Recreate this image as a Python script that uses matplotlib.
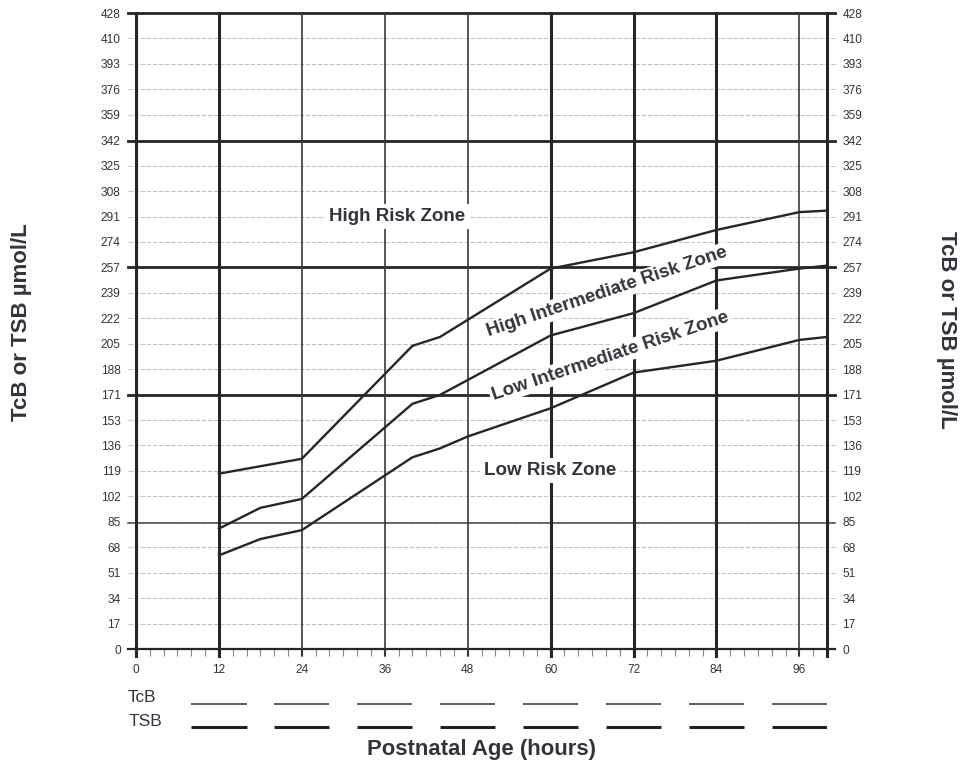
import matplotlib
matplotlib.use("Agg")
import matplotlib.pyplot as plt
import numpy as np

plt.rcParams['font.family'] = ['Liberation Sans', 'DejaVu Sans']

# ---- data ----
y_tick_labels = ['0', '17', '34', '51', '68', '85', '102', '119', '136', '153', '171',
                 '188', '205', '222', '239', '257', '274', '291', '308', '325', '342',
                 '359', '376', '393', '410', '428']
y_max = 428
x_major = [0, 12, 24, 36, 48, 60, 72, 84, 96]
x_max = 100

hours_high = [12, 18, 24, 40, 44, 60, 72, 84, 96, 100]
tsb_high = [118, 123, 128, 204, 210, 256, 267, 282, 294, 295]
hours_mid = [12, 18, 24, 40, 44, 60, 72, 84, 96, 100]
tsb_mid = [81, 95, 101, 165, 171, 211, 226, 248, 256, 258]
hours_low = [12, 18, 24, 40, 44, 48, 60, 72, 84, 96, 100]
tsb_low = [63, 74, 80, 129, 135, 143, 162, 186, 194, 208, 210]

thick_h = [171, 257, 342]
medium_h = [85]
thick_v = [12, 60, 72, 84]
thin_v = [24, 36, 48, 96]
legend_centers = [12, 24, 36, 48, 60, 72, 84, 96]

W, H = 969, 763
fig = plt.figure(figsize=(W / 100, H / 100), dpi=100)
L, R, T, B = 136, 827, 13, 649
ax = fig.add_axes([L / W, 1 - B / H, (R - L) / W, (B - T) / H])
ax.set_xlim(0, x_max)
ax.set_ylim(0, y_max)
for s in ax.spines.values():
    s.set_visible(False)

y_pos = np.linspace(0, y_max, len(y_tick_labels))
ext = 8 / (R - L)
ink = '#262626'
txtc = '#33333d'

# horizontal gridlines
for yv in y_pos:
    ax.axhline(yv, xmin=-ext, xmax=1 + ext, color='#c4c4c4', lw=0.8,
               ls=(0, (4, 1.5)), clip_on=False, zorder=1)
for yv in thick_h + [y_max]:
    ax.axhline(yv, xmin=-ext, xmax=1 + ext, color=ink, lw=2.0, clip_on=False, zorder=2)
ax.axhline(0, xmin=-ext, xmax=1 + ext, color=ink, lw=1.6, clip_on=False, zorder=2)
for yv in medium_h:
    ax.axhline(yv, xmin=-ext, xmax=1 + ext, color='#444444', lw=1.1, clip_on=False, zorder=2)

# vertical lines
vext = 7 / (B - T)
for xv in thick_v + [0, x_max]:
    ax.axvline(xv, ymin=-vext, ymax=1, color=ink, lw=2.2, clip_on=False, zorder=2)
for xv in thin_v:
    ax.axvline(xv, ymin=-vext, ymax=1, color='#3a3a3a', lw=1.2, clip_on=False, zorder=2)

# curves
for hx, vy in [(hours_high, tsb_high), (hours_mid, tsb_mid), (hours_low, tsb_low)]:
    ax.plot(hx, vy, color=ink, lw=1.7, solid_joinstyle='miter', zorder=3)

# ticks
ax.set_yticks(y_pos)
ax.set_yticklabels(y_tick_labels)
ax.tick_params(axis='y', length=0, pad=11, labelsize=8.6, labelcolor=txtc,
               left=True, right=True, labelleft=True, labelright=True)
ax.set_xticks(x_major)
ax.set_xticks(np.arange(0, x_max + 1, 2), minor=True)
ax.tick_params(axis='x', which='major', length=5, width=1.5, color=ink, pad=6,
               labelsize=8.6, labelcolor=txtc)
ax.tick_params(axis='x', which='minor', length=5, width=0.8, color='#888888')

# zone labels
box = dict(facecolor='white', edgecolor='none', pad=3)
ax.text(37.8, 291, 'High Risk Zone', ha='center', va='center', fontsize=13.5,
        fontweight='bold', color=txtc, bbox=box, zorder=4)
ax.text(59.9, 120, 'Low Risk Zone', ha='center', va='center', fontsize=13.5,
        fontweight='bold', color=txtc, bbox=box, zorder=4)
ax.text(68.1, 240, 'High Intermediate Risk Zone', ha='center', va='center',
        fontsize=13.5, fontweight='bold', color=txtc, rotation=18.5,
        rotation_mode='anchor', bbox=dict(facecolor='white', edgecolor='none', pad=1.5),
        zorder=4)
ax.text(68.6, 197, 'Low Intermediate Risk Zone', ha='center', va='center',
        fontsize=13.5, fontweight='bold', color=txtc, rotation=18.5,
        rotation_mode='anchor', bbox=dict(facecolor='white', edgecolor='none', pad=1.5),
        zorder=4)

# axis labels
fig.text(22 / W, 1 - 322 / H, 'TcB or TSB µmol/L', rotation=90, ha='center',
         va='center', fontsize=16, fontweight='bold', color=txtc)
fig.text(946.7 / W, 1 - 330 / H, 'TcB or TSB µmol/L', rotation=270, ha='center',
         va='center', fontsize=16, fontweight='bold', color=txtc)
fig.text(481.7 / W, 1 - 749 / H, 'Postnatal Age (hours)', ha='center', va='center',
         fontsize=15.9, fontweight='bold', color=txtc)

# TcB / TSB entry row
lax = fig.add_axes([L / W, 1 - 740 / H, (R - L) / W, 50 / H], sharex=ax)
lax.set_ylim(740, 690)
lax.axis('off')
for c in legend_centers:
    lax.plot([c - 4, c + 4], [704, 704], color='#333333', lw=1.1, solid_capstyle='butt')
    lax.plot([c - 4, c + 4], [727, 727], color='#222222', lw=2.2, solid_capstyle='butt')
fig.text(128 / W, 1 - 697 / H, 'TcB', ha='left', va='center', fontsize=12.3, color=txtc)
fig.text(129 / W, 1 - 721 / H, 'TSB', ha='left', va='center', fontsize=12.5, color=txtc)

fig.savefig('out.png', dpi=100)
